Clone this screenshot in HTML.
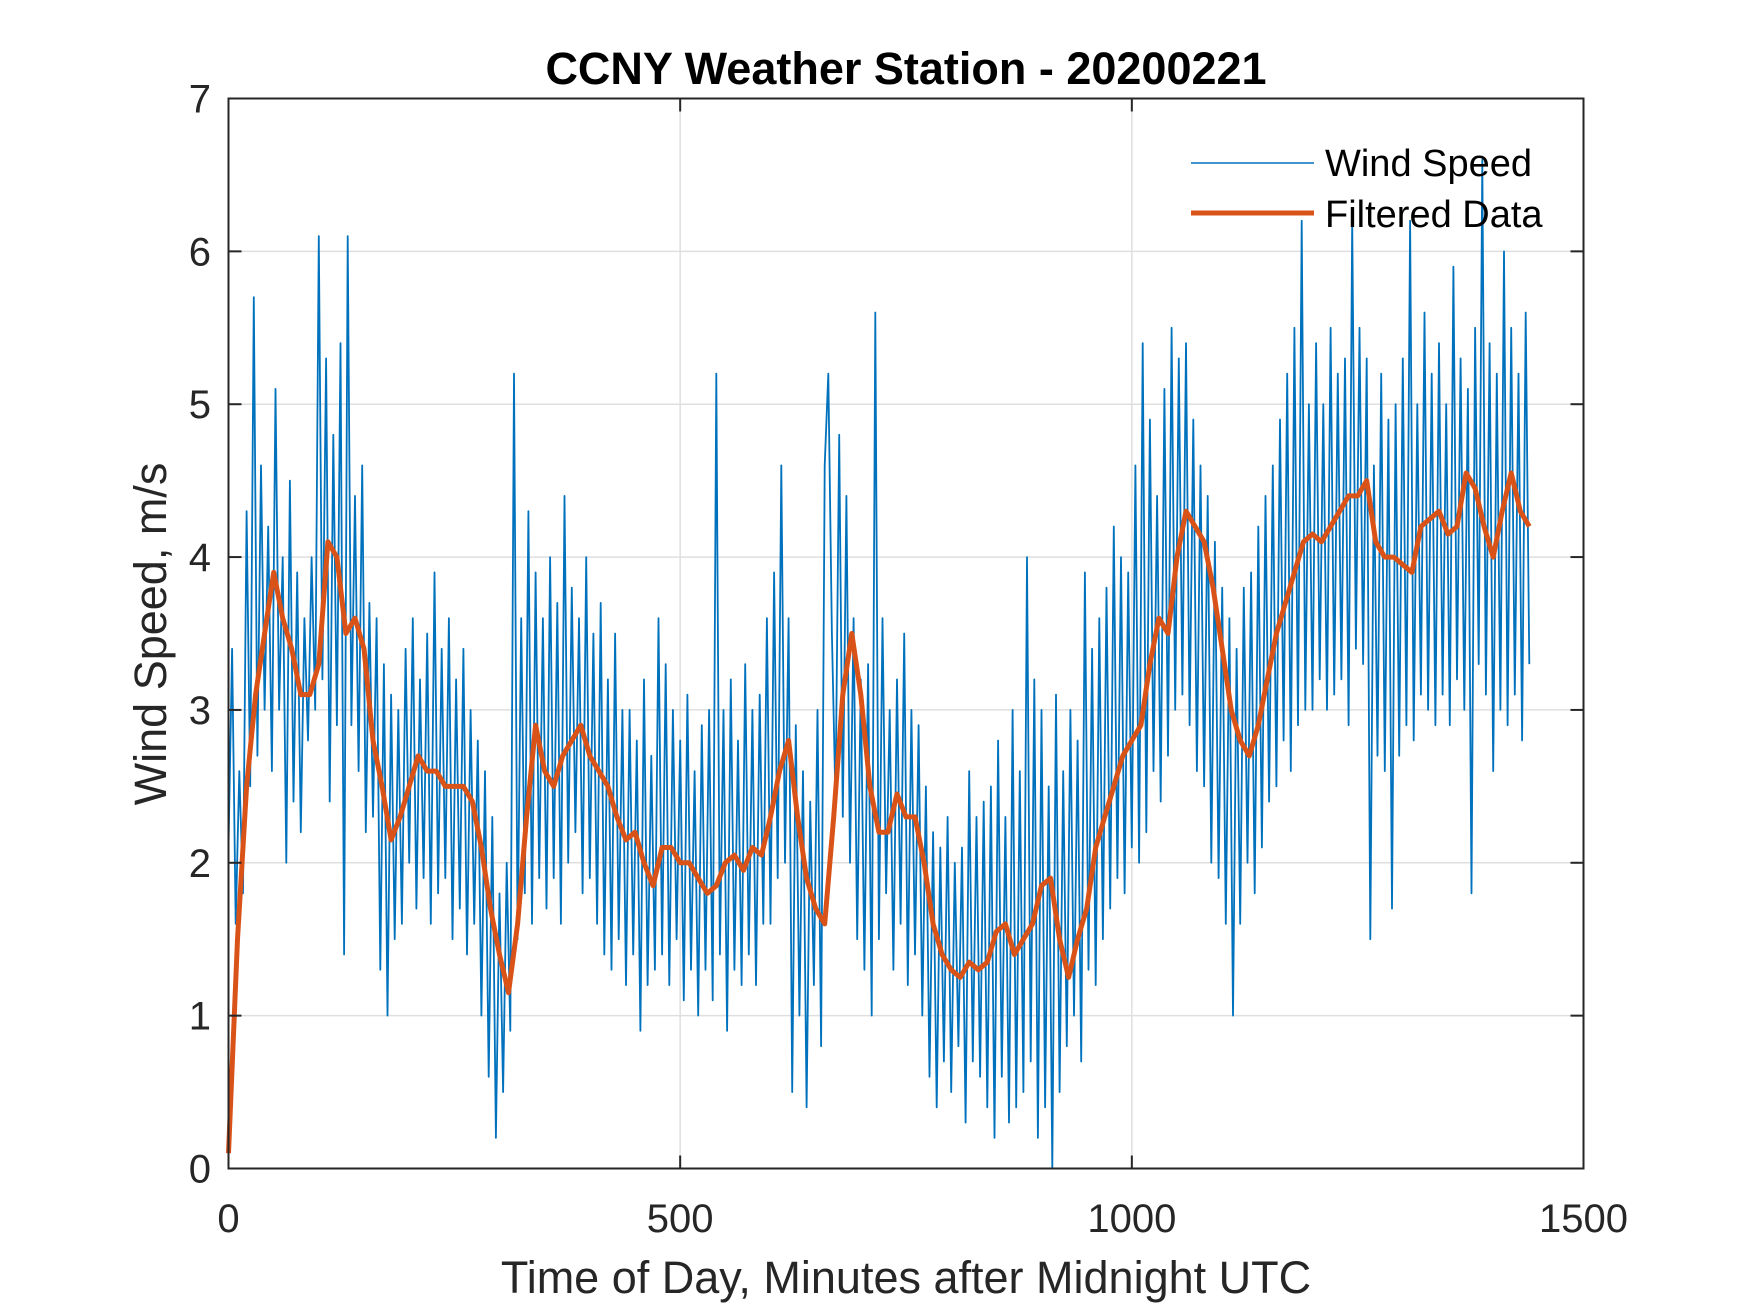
<!DOCTYPE html>
<html><head><meta charset="utf-8"><style>
html,body{margin:0;padding:0;background:#fff;}
svg{display:block;font-family:"Liberation Sans",Arial,sans-serif;}
</style></head><body>
<svg id="chart" width="1750" height="1313" viewBox="0 0 1750 1313" xmlns="http://www.w3.org/2000/svg">
<rect width="1750" height="1313" fill="#fff"/>
<g id="grid"></g>
<g id="series"></g>
<rect x="228.5" y="98.5" width="1355" height="1070" fill="none" stroke="#262626" stroke-width="2"/>
<g id="ticks"></g>
<text x="906" y="84" text-anchor="middle" font-size="45" font-weight="bold" fill="#000">CCNY Weather Station - 20200221</text>
<text x="906" y="1293" text-anchor="middle" font-size="45" fill="#262626">Time of Day, Minutes after Midnight UTC</text>
<text x="0" y="0" transform="translate(166,634) rotate(-90)" text-anchor="middle" font-size="45" fill="#262626">Wind Speed, m/s</text>
<g>
<line x1="1191" y1="163" x2="1314" y2="163" stroke="#0072BD" stroke-width="1.5"/>
<text x="1325" y="176" font-size="38" fill="#000">Wind Speed</text>
<line x1="1191" y1="213" x2="1314" y2="213" stroke="#D95319" stroke-width="5"/>
<text x="1325" y="227" font-size="38" fill="#000">Filtered Data</text>
</g>
</svg>
<script>
const xTicks=[0,500,1000,1500];
const yTicks=[0,1,2,3,4,5,6,7];
const rawStep=4;
const rawValues=[
2.1,3.4,1.6,2.6,1.8,4.3,2.5,5.7,2.7,4.6,
3.0,4.2,2.6,5.1,3.0,4.0,2.0,4.5,2.4,3.9,
2.2,3.6,2.8,4.0,3.0,6.1,3.2,5.3,2.4,4.8,
2.9,5.4,1.4,6.1,2.9,4.4,2.6,4.6,2.2,3.7,
2.3,3.6,1.3,3.3,1.0,3.1,1.5,3.0,1.6,3.4,
2.0,3.6,1.7,3.2,1.9,3.5,1.6,3.9,1.8,3.4,
1.9,3.6,1.5,3.2,1.7,3.4,1.4,3.0,1.6,2.8,
1.0,2.6,0.6,2.3,0.2,1.8,0.5,2.0,0.9,5.2,
1.5,3.6,1.8,4.3,1.6,3.9,1.9,3.6,1.7,4.0,
1.9,3.7,1.6,4.4,2.0,3.8,2.2,3.6,1.8,4.0,
1.9,3.5,1.6,3.7,1.4,3.2,1.3,3.5,1.5,3.0,
1.2,3.0,1.4,2.8,0.9,3.2,1.2,2.7,1.3,3.6,
1.4,3.3,1.2,3.0,1.5,2.8,1.1,3.1,1.3,2.6,
1.0,2.9,1.3,3.0,1.1,5.2,1.4,3.0,0.9,3.2,
1.3,2.8,1.2,3.3,1.4,3.0,1.2,3.1,1.6,3.6,
1.6,3.9,1.9,4.6,2.0,3.6,0.5,2.9,1.0,2.6,
0.4,2.4,1.2,3.0,0.8,4.6,5.2,3.5,2.4,4.8,
2.3,4.4,2.0,3.6,1.5,3.2,1.3,3.3,1.0,5.6,
1.5,3.6,1.8,3.0,1.3,3.2,1.6,3.5,1.2,3.0,
1.4,2.9,1.0,2.5,0.6,2.2,0.4,2.1,0.7,2.3,
0.5,2.0,0.8,2.1,0.3,2.6,0.7,2.3,0.6,2.4,
0.4,2.5,0.2,2.8,0.6,2.3,0.3,3.0,0.4,2.6,
0.5,4.0,0.7,3.2,0.2,3.0,0.4,2.5,0.0,3.1,
0.5,2.6,0.8,3.0,1.0,2.8,0.7,3.9,1.3,3.4,
1.2,3.6,1.5,3.8,1.7,4.2,1.9,4.0,1.8,3.9,
2.1,4.6,2.0,5.4,2.2,4.9,2.6,4.4,2.4,5.1,
2.7,5.5,3.0,5.3,3.1,5.4,2.9,4.9,2.6,4.6,
2.5,4.4,2.0,4.1,1.9,3.8,1.6,3.6,1.0,3.4,
1.6,3.8,2.0,3.9,1.8,4.2,2.1,4.4,2.4,4.6,
2.5,4.9,2.8,5.2,2.6,5.5,2.9,6.2,3.0,5.0,
3.0,5.4,3.2,5.0,3.0,5.5,3.1,5.2,3.2,5.3,
2.9,6.2,3.4,5.5,3.3,5.3,1.5,4.6,2.7,5.2,
2.6,4.9,1.7,5.0,2.7,5.3,2.9,6.2,2.8,5.0,
3.1,5.6,3.0,5.2,2.9,5.4,3.1,5.0,2.9,5.9,
3.2,5.3,3.0,5.1,1.8,5.5,3.3,6.6,3.1,5.4,
2.6,5.2,3.0,6.0,2.9,5.5,3.1,5.2,2.8,5.6,
3.3];
const filtStep=10;
const filteredValues=[
0.1,1.5,2.5,3.1,3.5,3.9,3.6,3.4,3.1,3.1,3.3,4.1,4.0,3.5,3.6,3.4,2.8,2.5,2.15,2.3,
2.5,2.7,2.6,2.6,2.5,2.5,2.5,2.4,2.1,1.7,1.4,1.15,1.6,2.3,2.9,2.6,2.5,2.7,2.8,2.9,
2.7,2.6,2.5,2.3,2.15,2.2,2.0,1.85,2.1,2.1,2.0,2.0,1.9,1.8,1.85,2.0,2.05,1.95,2.1,2.05,
2.3,2.6,2.8,2.3,1.9,1.7,1.6,2.3,3.1,3.5,3.1,2.5,2.2,2.2,2.45,2.3,2.3,2.0,1.6,1.4,
1.3,1.25,1.35,1.3,1.35,1.55,1.6,1.4,1.5,1.6,1.85,1.9,1.5,1.25,1.5,1.7,2.1,2.3,2.5,2.7,
2.8,2.9,3.3,3.6,3.5,4.0,4.3,4.2,4.1,3.8,3.4,3.0,2.8,2.7,2.9,3.2,3.5,3.7,3.9,4.1,
4.15,4.1,4.2,4.3,4.4,4.4,4.5,4.1,4.0,4.0,3.95,3.9,4.2,4.25,4.3,4.15,4.2,4.55,4.45,4.2,
4.0,4.3,4.55,4.3,4.2];
const L=228.5,R=1583.5,T=98.5,B=1168.5;
const xMin=0,xMax=1500,yMin=0,yMax=7;
function xs(v){return L+(v-xMin)/(xMax-xMin)*(R-L);}
function ys(v){return B-(v-yMin)/(yMax-yMin)*(B-T);}
const NS='http://www.w3.org/2000/svg';
function mk(tag,attrs,parent){const e=document.createElementNS(NS,tag);for(const k in attrs)e.setAttribute(k,attrs[k]);parent.appendChild(e);return e;}
const grid=document.getElementById('grid'),ticks=document.getElementById('ticks'),series=document.getElementById('series');
xTicks.forEach(v=>{
  const x=xs(v);
  if(v>xMin&&v<xMax){const g=mk('line',{x1:x,y1:T,x2:x,y2:B,stroke:'#dfdfdf','stroke-width':1.5},grid);
  
  }
  const t1=mk('line',{x1:x,y1:B,x2:x,y2:B-13,stroke:'#262626','stroke-width':2},ticks);
  
  
  const t2=mk('line',{x1:x,y1:T,x2:x,y2:T+13,stroke:'#262626','stroke-width':2},ticks);
  
  
  const lb=mk('text',{x:x,y:1232,'text-anchor':'middle','font-size':40,fill:'#262626'},ticks);
  lb.textContent=v;
  
  
});
yTicks.forEach(v=>{
  const y=ys(v);
  if(v>yMin&&v<yMax){const g=mk('line',{x1:L,y1:y,x2:R,y2:y,stroke:'#dfdfdf','stroke-width':1.5},grid);
  
  }
  const t1=mk('line',{x1:L,y1:y,x2:L+13,y2:y,stroke:'#262626','stroke-width':2},ticks);
  
  
  const t2=mk('line',{x1:R,y1:y,x2:R-13,y2:y,stroke:'#262626','stroke-width':2},ticks);
  
  
  const lb=mk('text',{x:211,y:y+14,'text-anchor':'end','font-size':40,fill:'#262626'},ticks);
  lb.textContent=v;
  
  
});
const rawPts=rawValues.map((v,i)=>xs(i*rawStep).toFixed(1)+','+ys(v).toFixed(1)).join(' ');
const raw=mk('polyline',{points:rawPts,fill:'none',stroke:'#0072BD','stroke-width':1.8,'stroke-linejoin':'round'},series);


const fPts=filteredValues.map((v,i)=>xs(Math.min(i*filtStep,1445)).toFixed(1)+','+ys(v).toFixed(1)).join(' ');
const filt=mk('polyline',{points:fPts,fill:'none',stroke:'#D95319','stroke-width':5,'stroke-linejoin':'round'},series);


</script>
</body></html>
